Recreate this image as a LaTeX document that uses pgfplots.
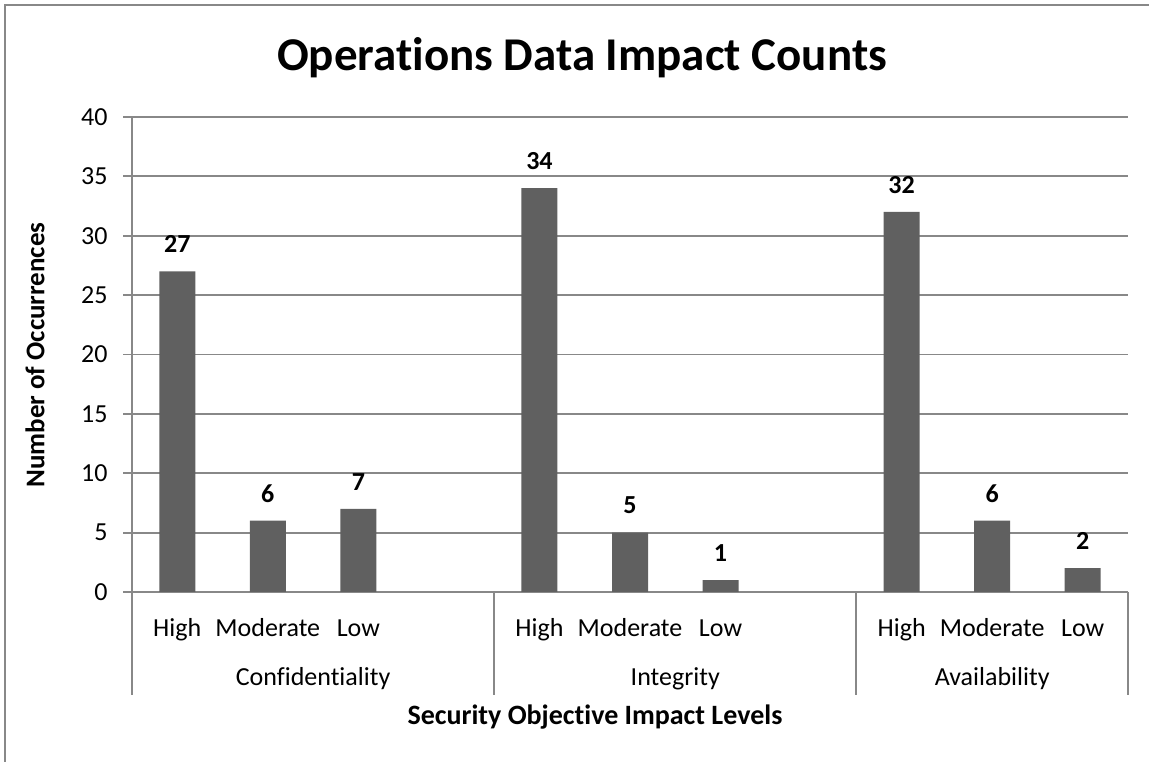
\documentclass[border=0pt]{standalone}
\usepackage{pgfplots}
\pgfplotsset{compat=1.18}
\usepackage{fontspec}
\setmainfont[Ligatures=NoCommon]{Carlito}
\definecolor{barc}{HTML}{606060}
\definecolor{gridc}{HTML}{888888}
\begin{document}
\begin{tikzpicture}[x=1pt,y=1pt]
\useasboundingbox (0,0) rectangle (1149,762);
\draw[gridc, line width=2pt] (5,0) -- (5,757) -- (1149,757);
\node[font=\fontsize{47}{56}\selectfont\bfseries] at (582,704) {Operations Data Impact Counts};
\node[font=\fontsize{28}{33}\selectfont\bfseries] at (595,45) {Security Objective Impact Levels};
\node[font=\fontsize{27}{32}\selectfont\bfseries, rotate=90] at (35,407) {Number of Occurrences};
\begin{axis}[at={(132pt,170pt)}, anchor=south west, scale only axis,
  width=996pt, height=475pt,
  ymin=0, ymax=40, ytick={0,5,...,40},
  xmin=-0.5, xmax=10.5,
  xtick={0,1,2,4,5,6,8,9,10},
  xticklabels={High,Moderate,Low,High,Moderate,Low,High,Moderate,Low},
  axis lines*=left,
  axis line style={gridc, line width=1.8pt},
  ymajorgrids, grid style={gridc, line width=1.8pt},
  tick align=outside, major tick length=9pt,
  y tick style={gridc, line width=1.8pt},
  x tick style={draw=none},
  /pgf/number format/assume math mode=true,
  tick label style={font=\fontsize{26}{31}\selectfont},
  xticklabel style={anchor=base, yshift=-36pt},
  yticklabel style={xshift=-12pt},
  ybar, bar width=36pt,
  nodes near coords,
  nodes near coords style={font=\fontsize{26}{31}\selectfont\bfseries, yshift=15pt},
  clip=false,
]
\addplot[fill=barc, draw=none] coordinates {
 (0,27) (1,6) (2,7)
 (4,34) (5,5) (6,1)
 (8,32) (9,6) (10,2)
};
\foreach \xx in {-0.5,3.5,7.5,10.5}{
  \edef\temp{\noexpand\draw[gridc, line width=1.8pt] (axis cs:\xx,0) -- ([yshift=-103pt]axis cs:\xx,0);}
  \temp
}
\node[font=\fontsize{26}{31}\selectfont, anchor=base] at (axis cs:1.5,0) [yshift=-94pt] {Confidentiality};
\node[font=\fontsize{26}{31}\selectfont, anchor=base] at (axis cs:5.5,0) [yshift=-94pt] {Integrity};
\node[font=\fontsize{26}{31}\selectfont, anchor=base] at (axis cs:9,0) [yshift=-94pt] {Availability};
\end{axis}
\end{tikzpicture}
\end{document}
